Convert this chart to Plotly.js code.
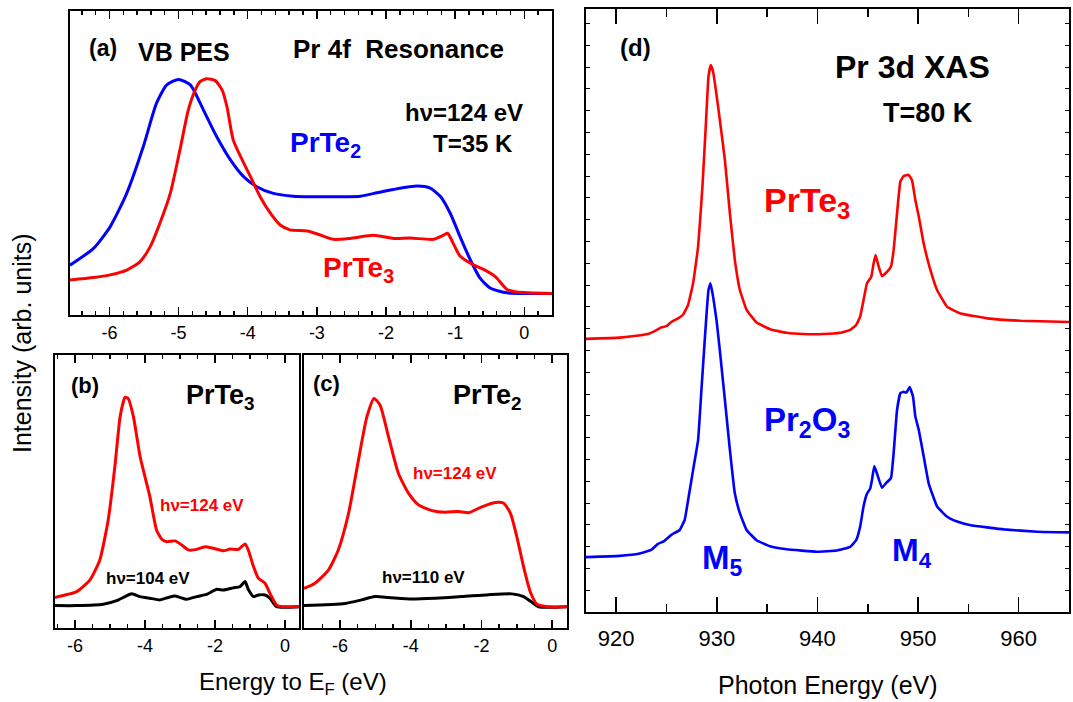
<!DOCTYPE html>
<html><head><meta charset="utf-8">
<script src="https://cdn.plot.ly/plotly-3.0.1.min.js"></script>
<style>html,body{margin:0;padding:0;background:#fff}</style>
</head><body><div id="chart" style="width:1073px;height:702px"></div>
<script>
// ---------- Panel (a): VB PES, Pr 4f resonance (hv = 124 eV) ----------
const aPrTe2E = [-6.57,-6.23,-5.99,-5.75,-5.51,-5.32,-5.17,-5.0,-4.83,-4.64,-4.45,-4.25,-4.06,-3.87,-3.63,-3.34,-2.85,-2.37,-2.13,-1.89,-1.55,-1.36,-1.21,-1.07,-0.93,-0.78,-0.64,-0.49,-0.25,0.04,0.4];
const aPrTe2I = [16.4,21.9,29,40,55.4,69.6,75.7,77.5,75.7,67.4,58.7,51,45.5,42.2,40,39.1,38.9,39.1,40.2,41.3,42.4,41.7,38.9,33.4,25.8,18.1,12.1,8.8,7.3,7.1,7.1];
const aPrTe3E = [-6.57,-6.23,-5.99,-5.75,-5.56,-5.41,-5.27,-5.12,-4.98,-4.86,-4.76,-4.69,-4.59,-4.47,-4.37,-4.30,-4.21,-4.08,-3.96,-3.82,-3.67,-3.53,-3.39,-3.14,-2.95,-2.76,-2.52,-2.18,-1.89,-1.65,-1.31,-1.19,-1.11,-1.03,-0.93,-0.73,-0.59,-0.42,-0.25,-0.11,0.4];
const aPrTe3I = [11.5,12.3,13.2,14.8,17.5,22.5,30.2,40,54.3,67.4,74,76.8,77.7,77.1,74,68.5,57.6,51,45.5,38.9,33.4,29.6,28,27.6,26.3,24.9,25.2,26.2,25.2,25.3,24.9,26,26.9,23.6,19.4,16.4,15,12.6,8.4,7.6,7.1];

// ---------- Panel (b): PrTe3, hv = 124 eV and 104 eV ----------
const b124E = [-6.57,-5.95,-5.57,-5.29,-5.05,-4.86,-4.71,-4.57,-4.48,-4.33,-4.14,-4.00,-3.86,-3.67,-3.52,-3.38,-3.14,-2.95,-2.76,-2.52,-2.29,-2.05,-1.76,-1.57,-1.33,-1.14,-1.05,-0.90,-0.76,-0.57,-0.43,-0.24,-0.05,0.4];
const b124I = [11.2,13.3,17.6,24.9,39.6,59.1,77.4,84.5,84.1,77.4,62.8,55.4,48.1,35.9,32.5,31.6,31.9,30.4,28.6,28.8,29.8,29.2,28.3,28.9,28.8,30.8,28.6,22.5,18.2,16.4,12.7,8.4,7.8,7.8];
const b104E = [-6.57,-5.95,-5.19,-4.81,-4.57,-4.38,-4.14,-3.86,-3.57,-3.33,-3.14,-3.00,-2.81,-2.52,-2.24,-1.95,-1.76,-1.48,-1.29,-1.14,-1.05,-0.90,-0.76,-0.57,-0.43,-0.24,0.4];
const b104I = [8.2,8.2,8.7,10,11.5,12.5,11.5,10.9,10.3,11.2,11.7,11.2,10.5,11.5,12.3,14.2,13.9,14.7,15.1,17,14.2,11.5,12.1,12.1,10.9,7.8,7.8];

// ---------- Panel (c): PrTe2, hv = 124 eV and 110 eV ----------
const c124E = [-7.02,-6.71,-6.33,-6.05,-5.76,-5.48,-5.24,-5.04,-4.87,-4.63,-4.35,-4.06,-3.78,-3.40,-3.03,-2.65,-2.36,-1.99,-1.61,-1.37,-1.18,-1.0,-0.81,-0.62,-0.43,-0.10,0.42];
const c124I = [14.5,16.4,21.2,28.6,42,61.5,77.4,84.1,81.7,70.1,56.7,49.3,45.1,43,42.4,42.7,42.2,44.4,46,45.7,42,33.5,22.5,13.3,8.7,7.8,7.8];
const c110E = [-7.02,-5.86,-5.39,-5.01,-4.63,-3.97,-3.31,-2.55,-1.80,-1.14,-0.81,-0.57,-0.38,0.42];
const c110I = [8.2,9.0,10.3,11.5,11.2,10.6,10.9,11.5,12.2,12.5,11.5,9.4,7.8,7.8];

// ---------- Panel (d): Pr 3d XAS ----------
const dPrTe3E = [917,920.33,922.0,923.32,924.05,924.49,924.98,925.48,926.15,926.64,927.14,927.64,928.14,928.57,928.9,929.17,929.4,929.63,930.13,930.8,931.3,931.79,932.29,932.96,933.95,935.28,936.94,938.6,940.6,942.26,943.26,943.85,944.25,944.58,944.92,945.35,945.58,945.78,946.08,946.41,946.91,947.31,947.57,947.91,948.24,948.57,949.07,949.4,949.73,950.07,950.56,951.23,951.89,952.89,954.22,956.88,960.2,965];
const dPrTe3I = [45.3,45.5,45.8,46.2,46.8,47.2,47.4,48.1,48.7,49.3,50.9,54.5,60.6,70.5,80.5,88.8,90.7,89.6,83.8,75,66.1,58.4,53.4,50.1,48,46.9,46.3,46.1,46.1,46.3,46.8,47.6,49,51.7,54.5,55.6,57.8,59.2,57.3,55.7,56.4,57.3,60,66.1,71.4,72.3,72.5,71.6,68.3,65.6,61.1,56.7,53.4,50.6,49.5,48.7,48.3,48.1];
const dPr2O3E = [917,920.33,922.33,923.49,924.15,924.72,925.48,926.31,926.81,927.31,927.81,928.14,928.47,928.8,929.17,929.37,929.63,929.97,930.3,930.8,931.3,931.79,932.29,932.96,933.95,935.28,936.94,939.93,941.93,943.26,943.85,944.25,944.58,944.92,945.25,945.42,945.65,945.91,946.41,946.84,947.31,947.57,947.91,948.24,948.57,948.84,949.17,949.5,949.73,950.07,950.56,951.06,951.89,952.89,953.89,955.22,958.54,961.86,965];
const dPr2O3I = [9.1,9.3,9.7,10.3,11.3,11.7,12.8,13.6,15.3,20.2,25.2,28.5,36.8,45.1,53.4,54.5,52.3,48.4,43.4,35.2,26.9,19.7,16.4,13.6,11.9,10.9,10.4,10,10.2,10.8,11.9,14.2,17.5,19.6,20.5,21.9,24.2,23,20.6,21.4,22.2,26.3,33.5,36.3,36.5,36.4,37.3,35.7,32.4,30.2,25.8,21.3,17.5,15.8,15,14.4,13.7,13.3,13.2];

// ---------- tick labels ----------
const aTickVals = [-6,-5,-4,-3,-2,-1,0];
const aTickText = ['-6','-5','-4','-3','-2','-1','0'];
const bcTickVals = [-6,-4,-2,0];
const bcTickText = ['-6','-4','-2','0'];
const dTickVals = [920,930,940,950,960];
const dTickText = ['920','930','940','950','960'];

const RED = '#ff0000', BLUE = '#0000ff', BLACK = '#000000';
const FONT = 'Liberation Sans, Arial, Helvetica, sans-serif';
const W = 1073, H = 702;
const fx = p => p / W, fy = p => 1 - p / H;

function line(x, y, color, xa, ya, width, smooth) {
  return {x: x, y: y, type: 'scatter', mode: 'lines', xaxis: xa, yaxis: ya,
          line: {color: color, width: width, shape: smooth ? 'spline' : 'linear', smoothing: smooth || 0},
          hoverinfo: 'skip', showlegend: false};
}

const traces = [
  line(aPrTe2E, aPrTe2I, BLUE, 'x', 'y', 3, 0.6),
  line(aPrTe3E, aPrTe3I, RED, 'x', 'y', 3, 0.6),
  line(b104E, b104I, BLACK, 'x2', 'y2', 3, 0.5),
  line(b124E, b124I, RED, 'x2', 'y2', 3, 0.5),
  line(c110E, c110I, BLACK, 'x3', 'y3', 3, 0.6),
  line(c124E, c124I, RED, 'x3', 'y3', 3, 0.6),
  line(dPrTe3E, dPrTe3I, RED, 'x4', 'y4', 2.6, 0.3),
  line(dPr2O3E, dPr2O3I, BLUE, 'x4', 'y4', 2.6, 0.3)
];

function xax(dom, range, tv, tt, minorD, len, mlen, fsize, standoff, anchor) {
  return {domain: dom, range: range, anchor: anchor, showline: true, linecolor: '#000', linewidth: 2,
          mirror: 'ticks', ticks: 'inside', ticklen: len, tickwidth: 1.5, tickcolor: '#000',
          tickmode: 'array', tickvals: tv, ticktext: tt,
          minor: {dtick: minorD, tick0: 0, ticks: 'inside', ticklen: mlen, tickwidth: 1.5, tickcolor: '#000', showgrid: false},
          tickfont: {family: FONT, size: fsize, color: '#000'}, ticklabelstandoff: standoff,
          showgrid: false, zeroline: false, fixedrange: true};
}
function yax(dom, anchor, dtick, tlen) {
  const o = {domain: dom, range: [0, 100], anchor: anchor, showline: true, linecolor: '#000', linewidth: 2,
          mirror: true, showticklabels: false, showgrid: false, zeroline: false, fixedrange: true, ticks: ''};
  if (dtick) { o.ticks = 'inside'; o.mirror = 'ticks'; o.dtick = dtick; o.tick0 = 0; o.ticklen = tlen; o.tickwidth = 1; o.tickcolor = '#000'; }
  return o;
}

function txt(x, y, t, size, color, extra) {
  return Object.assign({xref: 'paper', yref: 'paper', x: fx(x), y: fy(y), text: t, showarrow: false,
          xanchor: 'center', yanchor: 'middle', font: {family: FONT, size: size, color: color}}, extra || {});
}

const annotations = [
  // panel (a)
  txt(103, 48, '<b>(a)</b>', 23, BLACK),
  txt(184, 52, '<b>VB PES</b>', 25, BLACK),
  txt(398, 49, '<b>Pr 4f\u00a0 Resonance</b>', 26, BLACK),
  txt(464, 112, '<b>h\u03bd=124 eV</b>', 24, BLACK),
  txt(473, 143, '<b>T=35 K</b>', 24, BLACK),
  txt(325, 145, '<b>PrTe<sub>2</sub></b>', 28, BLUE),
  txt(358, 269, '<b>PrTe<sub>3</sub></b>', 28, RED),
  // panel (b)
  txt(85, 385, '<b>(b)</b>', 22, BLACK),
  txt(220, 397, '<b>PrTe<sub>3</sub></b>', 27, BLACK),
  txt(202, 505, '<b>h\u03bd=124 eV</b>', 17, RED),
  txt(148, 578, '<b>h\u03bd=104 eV</b>', 17, BLACK),
  // panel (c)
  txt(327, 383, '<b>(c)</b>', 22, BLACK),
  txt(487, 397, '<b>PrTe<sub>2</sub></b>', 27, BLACK),
  txt(455, 473, '<b>h\u03bd=124 eV</b>', 17, RED),
  txt(423, 577, '<b>h\u03bd=110 eV</b>', 17, BLACK),
  // panel (d)
  txt(635, 48, '<b>(d)</b>', 24, BLACK),
  txt(912, 67, '<b>Pr 3d XAS</b>', 32, BLACK),
  txt(928, 113, '<b>T=80 K</b>', 27, BLACK),
  txt(807, 202, '<b>PrTe<sub>3</sub></b>', 34, RED),
  txt(807, 422, '<b>Pr<sub>2</sub>O<sub>3</sub></b>', 33, BLUE),
  txt(722, 560, '<b>M<sub>5</sub></b>', 33, BLUE),
  txt(912, 552, '<b>M<sub>4</sub></b>', 32, BLUE),
  // axis titles
  txt(22, 343, 'Intensity (arb. units)', 25, BLACK, {textangle: -90}),
  txt(293, 683, 'Energy to E<sub>F</sub> (eV)', 24, BLACK),
  txt(828, 685, 'Photon Energy (eV)', 25, BLACK)
];

const layout = {
  width: W, height: H, margin: {l: 0, r: 0, t: 0, b: 0},
  paper_bgcolor: '#fff', plot_bgcolor: '#fff', showlegend: false,
  font: {family: FONT, color: '#000'},
  xaxis:  xax([fx(70), fx(552)], [-6.57, 0.4], aTickVals, aTickText, 0.2, 8, 4, 18, 0, 'y'),
  yaxis:  yax([fy(315), fy(11)], 'x'),
  xaxis2: xax([fx(55), fx(299)], [-6.57, 0.4], bcTickVals, bcTickText, 0.5, 8, 4, 18, 0, 'y2'),
  yaxis2: yax([fy(628), fy(355)], 'x2'),
  xaxis3: xax([fx(304), fx(567)], [-7.02, 0.42], bcTickVals, bcTickText, 0.5, 8, 4, 18, 0, 'y3'),
  yaxis3: yax([fy(628), fy(355)], 'x3'),
  xaxis4: xax([fx(586), fx(1069)], [917, 965], dTickVals, dTickText, 5, 15, 8, 22, 6, 'y4'),
  yaxis4: yax([fy(612), fy(9)], 'x4', 3.615, 4),
  annotations: annotations
};

Plotly.newPlot('chart', traces, layout, {staticPlot: true, displayModeBar: false});
</script></body></html>
